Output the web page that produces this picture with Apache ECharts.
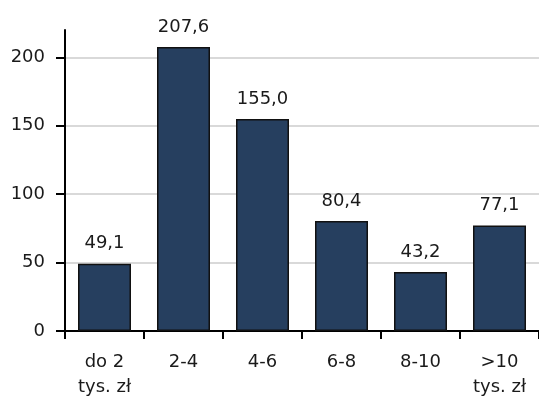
<!DOCTYPE html>
<html>
<head>
<meta charset="utf-8">
<script src="https://cdn.jsdelivr.net/npm/echarts@6/dist/echarts.min.js"></script>
<style>
  html, body { margin: 0; padding: 0; background: #fff; }
  #chart { width: 539px; height: 396px; }
</style>
</head>
<body>
<div id="chart"></div>
<script>
const categories = ['do 2\ntys. zł', '2-4', '4-6', '6-8', '8-10', '>10\ntys. zł'];
const values = [49.1, 207.6, 155.0, 80.4, 43.2, 77.1];
const yTicks = [0, 50, 100, 150, 200];

const FONT = 'DejaVu Sans';
const TEXT = '#1a1a1a';

const chart = echarts.init(document.getElementById('chart'), null, { renderer: 'canvas' });

chart.setOption({
    animation: false,
    backgroundColor: '#fff',
    grid: {
        left: 65, right: 0, top: 30, bottom: 65,
        containLabel: false, outerBoundsMode: 'none'
    },
    xAxis: {
        type: 'category',
        data: categories,
        axisLine: { lineStyle: { color: '#000', width: 2 } },
        axisTick: { show: true, length: 8, lineStyle: { color: '#000', width: 2 } },
        axisLabel: {
            color: TEXT, fontFamily: FONT, fontSize: 18,
            margin: 19, lineHeight: 25, interval: 0
        }
    },
    yAxis: {
        type: 'value',
        min: 0,
        max: 220,
        interval: 50,
        axisLine: { show: true, lineStyle: { color: '#000', width: 2 } },
        axisTick: {
            show: true, length: 9, customValues: yTicks,
            lineStyle: { color: '#000', width: 2 }
        },
        axisLabel: {
            customValues: yTicks,
            color: TEXT, fontFamily: FONT, fontSize: 18, margin: 20
        },
        splitLine: {
            lineStyle: {
                color: ['#d9d9d9', '#d9d9d9', '#d9d9d9', '#d9d9d9', '#d9d9d9', 'rgba(0,0,0,0)'],
                width: 2
            }
        }
    },
    series: [{
        type: 'bar',
        data: values,
        barWidth: 53,
        itemStyle: { color: '#263f5f', borderColor: '#111', borderWidth: 1.5 },
        label: {
            show: true,
            position: 'top',
            distance: 11,
            color: TEXT,
            fontFamily: FONT,
            fontSize: 18,
            formatter: p => p.value.toFixed(1).replace('.', ',')
        }
    }]
});
</script>
</body>
</html>
